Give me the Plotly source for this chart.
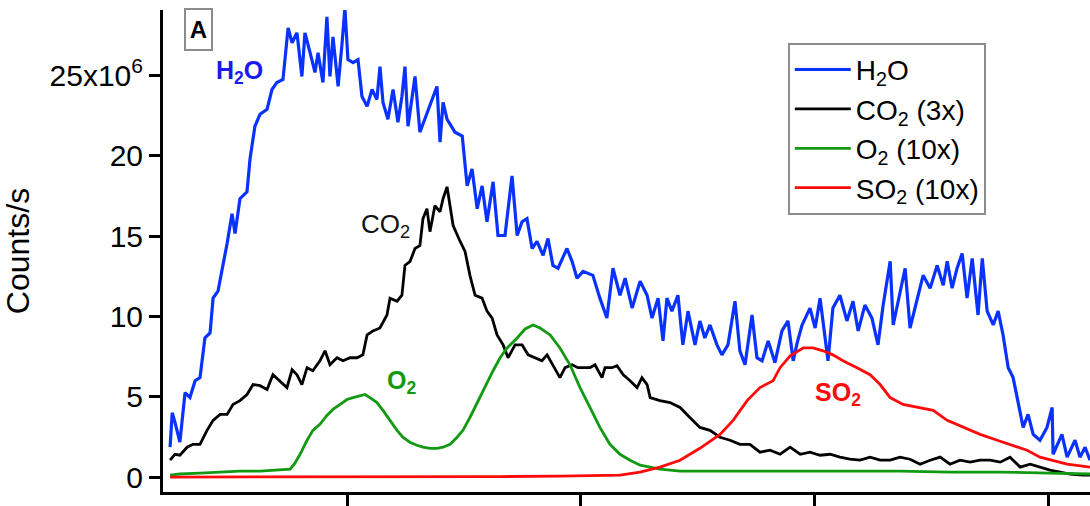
import plotly.graph_objects as go

# ---------------- data (counts/s in units of 1e6) ----------------
h2o_x = [24.3, 25.2, 26.4, 28.5, 30.7, 32.8, 35.0, 37.1, 39.2, 41.4, 42.7, 44.8, 46.9, 48.7, 50.8,
         52.1, 54.2, 57.2, 58.5, 60.6, 62.8, 65.8, 67.9, 70.0, 72.6, 74.8, 76.5, 78.6, 80.7, 82.0,
         84.2, 86.3, 87.6, 89.7, 91.4, 92.7, 94.0, 96.2, 97.9, 99.1, 100.4, 102.6, 104.7, 106.4,
         108.6, 110.7, 112.8, 114.1, 115.4, 117.5, 119.7, 121.8, 123.5, 124.8, 126.1, 129.1, 131.2,
         134.2, 136.4, 138.5, 139.8, 141.1, 142.8, 144.1, 146.2, 149.3, 151.4, 153.5, 155.7, 157.8,
         159.9, 162.5, 164.6, 167.6, 170.6, 172.8, 174.9, 177.0, 179.2, 181.3, 183.9, 186.0, 188.1,
         190.3, 194.1, 196.3, 198.4, 201.0, 205.2, 208.2, 211.2, 213.8, 216.8, 219.0, 222.0, 225.4,
         228.4, 230.5, 233.1, 235.2, 236.9, 239.0, 241.6, 243.7, 245.9, 248.9, 251.0, 253.1, 255.3,
         258.3, 260.4, 263.0, 266.0, 268.1, 270.3, 273.3, 275.4, 277.6, 280.2, 283.1, 286.1, 288.7,
         290.9, 292.6, 294.7, 298.1, 300.3, 302.4, 305.8, 307.9, 310.9, 313.9, 316.5, 318.7, 321.6,
         324.6, 327.2, 329.4, 332.4, 333.7, 336.6, 338.8, 340.9, 343.1, 346.5, 349.5, 352.5, 355.1,
         356.8, 358.9, 361.0, 363.2, 365.3, 367.5, 370.0, 371.8, 373.9, 376.5, 378.6, 380.7, 382.9,
         385.0, 387.2, 389.3, 391.4, 393.6, 396.5, 399.5, 401.7, 402.1, 405.9, 408.1, 411.5, 413.6,
         415.8, 417.9]
h2o_y = [1.86, 4.0, 3.4, 2.17, 5.26, 4.95, 6.00, 6.19, 8.66, 8.97, 11.14, 11.57, 13.18, 14.54, 16.40,
         15.16, 17.33, 17.76, 19.80, 21.84, 22.59, 22.90, 24.13, 24.57, 24.75, 27.97, 27.04, 27.66, 24.94, 27.66,
         26.42, 25.19, 26.42, 24.57, 28.65, 24.94, 27.41, 24.32, 27.04, 29.21, 25.99, 25.80, 25.99, 23.70,
         23.08, 24.13, 23.51, 25.56, 23.33, 22.28, 24.13, 22.09, 23.70, 25.56, 21.84, 24.94, 21.47,
         22.71, 23.51, 24.32, 20.85, 23.33, 22.28, 21.97, 21.47, 21.23, 18.13, 19.18, 16.71, 18.13,
         15.90, 18.38, 15.04, 15.04, 18.75, 15.04, 15.90, 16.09, 14.23, 14.67, 13.80, 14.85, 13.18,
         13.00, 14.23, 13.43, 12.38, 12.81, 12.56, 11.14, 9.90, 13.00, 11.32, 12.38, 10.52, 12.19,
         11.32, 9.90, 11.14, 8.48, 11.14, 10.33, 11.32, 8.23, 10.33, 8.23, 9.72, 8.66, 9.47,
         8.23, 7.61, 8.23, 10.95, 7.86, 6.99, 10.09, 7.43, 7.24, 8.48, 7.12, 9.10, 9.72,
         7.24, 8.35, 9.47, 10.52, 9.28, 11.14, 7.24, 10.52, 11.32, 9.72, 10.95, 9.10, 10.71,
         9.90, 8.23, 10.71, 13.43, 9.47, 11.57, 13.00, 9.28, 10.52, 12.56, 11.76, 13.18, 11.94,
         13.43, 11.76, 12.99, 13.92, 11.14, 13.61, 10.09, 13.61, 10.33, 9.47, 10.33, 8.85, 6.81,
         6.19, 4.52, 3.09, 3.90, 2.66, 2.29, 3.09, 4.33, 1.42, 2.66, 1.24, 2.29, 1.24,
         1.86, 1.05]

co2_x = [24.3, 26.4, 28.5, 31.6, 34.1, 37.1, 40.1, 42.7, 45.7, 48.7, 51.2, 54.2, 57.2, 59.8, 62.8,
         65.8, 68.3, 71.3, 74.3, 76.5, 78.6, 80.7, 82.9, 85.4, 88.4, 90.6, 92.7, 95.7, 98.3, 101.3,
         104.3, 106.8, 108.6, 111.1, 114.1, 117.1, 118.4, 121.4, 123.5, 124.8, 127.0, 129.1, 131.2,
         132.5, 134.2, 135.5, 137.6, 139.8, 141.1, 142.8, 144.1, 145.4, 148.4, 150.5, 152.6, 154.8,
         157.8, 159.9, 162.1, 164.2, 166.8, 168.9, 171.9, 174.9, 177.5, 180.4, 183.4, 185.6, 188.1,
         191.1, 193.3, 196.3, 198.8, 201.0, 204.0, 206.1, 209.1, 210.4, 213.4, 215.5, 218.2, 221.1,
         224.1, 226.2, 228.4, 229.7, 233.9, 238.2, 242.5, 246.7, 251.0, 255.3, 259.6, 263.9, 268.1,
         272.4, 276.7, 281.0, 285.3, 289.6, 293.9, 298.1, 302.4, 306.7, 310.9, 315.2, 319.5, 323.8,
         328.1, 332.4, 336.6, 340.9, 345.2, 349.5, 353.8, 358.0, 362.3, 366.6, 370.9, 375.2, 379.5,
         383.7, 388.0, 392.3, 396.5, 400.8, 405.1, 409.4, 414.9, 417.9]
co2_y = [1.05, 1.42, 1.36, 1.86, 2.04, 2.04, 2.91, 3.53, 3.90, 3.90, 4.52, 4.76, 5.14, 5.76, 5.69,
         5.45, 6.37, 6.00, 5.57, 6.68, 6.37, 5.76, 6.81, 6.62, 7.24, 7.86, 6.99, 7.43, 7.24, 7.43,
         7.43, 7.61, 8.85, 9.10, 9.28, 10.09, 11.14, 10.95, 11.32, 13.18, 13.43, 14.23, 14.42,
         16.09, 16.71, 15.28, 16.89, 16.52, 17.33, 18.07, 16.71, 15.66, 14.67, 14.05, 12.56, 11.32,
         11.14, 10.33, 9.90, 8.85, 8.23, 7.43, 8.23, 8.23, 7.61, 7.43, 7.24, 7.61, 6.99,
         6.19, 6.81, 6.99, 6.81, 6.81, 6.81, 6.99, 6.19, 6.81, 6.81, 6.93, 6.37, 6.00,
         5.57, 6.19, 5.76, 4.95, 4.76, 4.64, 4.33, 3.71, 3.09, 2.91, 2.48, 2.29, 2.04,
         2.04, 1.55, 1.67, 1.42, 1.86, 1.42, 1.55, 1.36, 1.42, 1.24, 1.11, 1.05, 1.24,
         1.05, 1.05, 1.24, 1.11, 0.80, 1.05, 1.24, 0.80, 1.05, 0.93, 1.05, 1.05, 0.93,
         1.24, 0.62, 0.80, 0.62, 0.43, 0.31, 0.19, 0.12, 0.12]

o2_x = [24.3, 28.5, 37.1, 45.7, 54.2, 62.8, 71.3, 75.7, 77.7, 79.9, 82.9, 85.4, 88.4, 91.4, 94.0,
        97.0, 100.0, 102.6, 105.6, 107.7, 109.8, 112.8, 115.4, 118.4, 121.4, 123.9, 126.9, 129.9,
        132.5, 135.5, 138.5, 141.1, 144.1, 147.1, 149.6, 152.6, 155.7, 159.1, 162.5, 165.5, 168.5,
        172.8, 176.2, 179.6, 182.6, 186.9, 191.1, 195.4, 199.7, 204.0, 208.2, 212.5, 216.8, 221.1,
        225.4, 233.9, 242.5, 251.0, 272.4, 293.9, 315.2, 336.6, 358.0, 379.5, 400.8, 417.9]
o2_y = [0.12, 0.19, 0.25, 0.31, 0.37, 0.37, 0.43, 0.50, 0.87, 1.42, 2.29, 2.91, 3.28, 3.84, 4.21,
        4.52, 4.83, 4.95, 5.07, 5.14, 4.95, 4.64, 4.15, 3.53, 2.91, 2.48, 2.17, 1.98,
        1.86, 1.79, 1.79, 1.86, 2.04, 2.48, 2.91, 3.71, 4.64, 5.69, 6.62, 7.43, 8.04,
        8.66, 9.22, 9.47, 9.28, 8.85, 8.04, 6.99, 5.57, 4.33, 3.09, 2.04, 1.42, 1.05,
        0.74, 0.50, 0.37, 0.37, 0.37, 0.37, 0.37, 0.37, 0.31, 0.31, 0.25, 0.19]

so2_x = [24.3, 79.9, 122.7, 165.5, 191.1, 208.2, 216.8, 225.4, 233.9, 242.5, 251.0, 259.6, 265.2,
         271.2, 276.7, 282.3, 285.3, 289.6, 295.2, 299.4, 303.7, 307.9, 312.2, 318.2, 323.8, 328.1,
         332.4, 337.9, 343.9, 350.8, 356.8, 363.6, 370.9, 378.2, 385.0, 391.0, 396.5, 402.1, 408.1,
         417.9]
so2_y = [0.0, 0.0, 0.02, 0.03, 0.06, 0.10, 0.12, 0.31, 0.62, 1.05, 1.79, 2.66, 3.53,
         4.76, 5.57, 6.00, 6.81, 7.55, 8.04, 8.04, 7.86, 7.61, 7.24, 6.81, 6.37, 5.76,
         4.95, 4.52, 4.33, 4.15, 3.53, 3.09, 2.66, 2.29, 1.98, 1.67, 1.24, 1.05, 0.80,
         0.62]

y_tickvals = [0, 5, 10, 15, 20, 25]
y_ticktext = ["0", "5", "10", "15", "20", "25x10<sup>6</sup>"]
x_tickvals = [100, 200, 300, 400]

series_names = ["H<sub>2</sub>O", "CO<sub>2</sub> (3x)", "O<sub>2</sub> (10x)", "SO<sub>2</sub> (10x)"]

# ---------------- figure ----------------
FONT = "Liberation Sans, Arial, sans-serif"
BLUE = "#0a32ff"
GREEN = "#119a11"
RED = "#ff0a0a"

fig = go.Figure()
fig.add_trace(go.Scatter(x=h2o_x, y=h2o_y, mode="lines", name=series_names[0],
                         line=dict(color=BLUE, width=3.2)))
fig.add_trace(go.Scatter(x=co2_x, y=co2_y, mode="lines", name=series_names[1],
                         line=dict(color="#000000", width=2.8)))
fig.add_trace(go.Scatter(x=o2_x, y=o2_y, mode="lines", name=series_names[2],
                         line=dict(color=GREEN, width=2.8)))
fig.add_trace(go.Scatter(x=so2_x, y=so2_y, mode="lines", name=series_names[3],
                         line=dict(color=RED, width=2.8)))

annos = [
    dict(x=54.2, y=25.25, text="<b>H<sub>2</sub>O</b>", font=dict(color="#1a1aee", size=25)),
    dict(x=116.3, y=15.66, text="CO<sub>2</sub>", font=dict(color="#111111", size=26)),
    dict(x=123.5, y=5.94, text="<b>O<sub>2</sub></b>", font=dict(color=GREEN, size=25)),
    dict(x=310.1, y=5.2, text="<b>SO<sub>2</sub></b>", font=dict(color=RED, size=25)),
]
for a in annos:
    fig.add_annotation(xref="x", yref="y", showarrow=False,
                       xanchor="center", yanchor="middle", **a)

# panel letter box
fig.add_annotation(xref="paper", yref="paper", x=0.0388, y=0.959, text="<b>A</b>",
                   xanchor="center", yanchor="middle",
                   showarrow=False, font=dict(size=24, color="#000000", family=FONT),
                   bordercolor="#8c8c8c", borderwidth=2, borderpad=0, bgcolor="white",
                   width=25, height=39, valign="middle")

fig.update_layout(
    width=1090, height=506,
    margin=dict(l=163, r=0, t=10, b=11, pad=0),
    paper_bgcolor="white", plot_bgcolor="white",
    font=dict(family=FONT, color="#000000"),
    showlegend=True,
    legend=dict(x=0.674, y=0.932, xanchor="left", yanchor="top",
                bordercolor="#8c8c8c", borderwidth=2, bgcolor="white",
                font=dict(size=28, family=FONT), itemwidth=56,
                tracegroupgap=0),
    xaxis=dict(range=[21.27, 417.9], showgrid=False, zeroline=False,
               showline=True, linecolor="#000000", linewidth=3,
               ticks="outside", ticklen=14, tickwidth=3, tickcolor="#000000",
               tickvals=x_tickvals, showticklabels=False),
    yaxis=dict(range=[-0.93, 29.08], showgrid=False, zeroline=False,
               showline=True, linecolor="#000000", linewidth=3,
               ticks="outside", ticklen=11, tickwidth=3, tickcolor="#000000",
               tickvals=y_tickvals, ticktext=y_ticktext,
               tickfont=dict(size=30, family=FONT, color="#000000"),
               title=dict(text="Counts/s", font=dict(size=32, family=FONT), standoff=14)),
)

fig.write_html("out.html")
